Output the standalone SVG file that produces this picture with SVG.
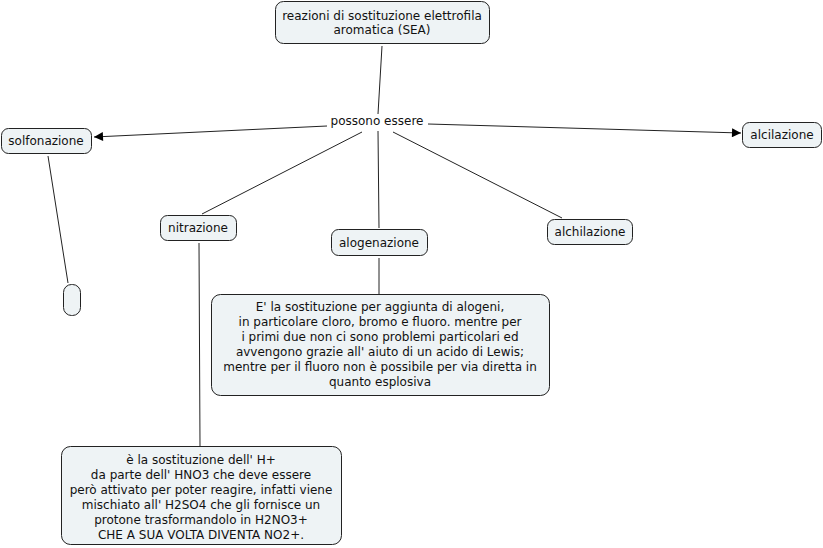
<svg xmlns="http://www.w3.org/2000/svg" width="823" height="548" viewBox="0 0 823 548">
<style>
.box{fill:#eef3f5;stroke:#222;stroke-width:1}
.t{font-family:"DejaVu Sans","Verdana",sans-serif;font-size:12px;fill:#111;text-anchor:middle}
.c{stroke:#222;stroke-width:1;fill:none}
</style>
<defs>
<marker id="arr" viewBox="0 0 10 10" refX="10" refY="5" markerWidth="12" markerHeight="9" markerUnits="userSpaceOnUse" orient="auto">
<path d="M0,0 L10,5 L0,10 z" fill="#000"/>
</marker>
</defs>
<rect width="823" height="548" fill="#fff"/>
<g id="connectors">
<line class="c" x1="382" y1="46" x2="378" y2="114"/>
<line class="c" x1="327" y1="126" x2="94" y2="137" marker-end="url(#arr)"/>
<line class="c" x1="428" y1="124" x2="741" y2="133" marker-end="url(#arr)"/>
<line class="c" x1="362" y1="132" x2="202" y2="214"/>
<line class="c" x1="378" y1="131" x2="379" y2="228"/>
<line class="c" x1="393" y1="132" x2="562" y2="218"/>
<line class="c" x1="48" y1="156" x2="68" y2="283"/>
<line class="c" x1="379" y1="258" x2="379" y2="294"/>
<line class="c" x1="199" y1="243" x2="200" y2="446"/>
</g>
<g id="node-sea">
<rect class="box" x="275.5" y="1.5" width="214" height="42" rx="8"/>
<text class="t" x="382" y="19.5">reazioni di sostituzione elettrofila</text>
<text class="t" x="382" y="33.5">aromatica (SEA)</text>
</g>
<g id="node-possono">
<text class="t" x="377" y="125">possono essere</text>
</g>
<g id="node-solfonazione">
<rect class="box" x="1.5" y="128.5" width="90" height="25" rx="7"/>
<text class="t" x="46" y="145">solfonazione</text>
</g>
<g id="node-alcilazione">
<rect class="box" x="742.5" y="122.5" width="79" height="25" rx="7"/>
<text class="t" x="782" y="139">alcilazione</text>
</g>
<g id="node-nitrazione">
<rect class="box" x="160.5" y="215.5" width="76" height="25" rx="7"/>
<text class="t" x="198" y="232">nitrazione</text>
</g>
<g id="node-alogenazione">
<rect class="box" x="331.5" y="229.5" width="96" height="26" rx="7"/>
<text class="t" x="379" y="247">alogenazione</text>
</g>
<g id="node-alchilazione">
<rect class="box" x="547.5" y="219.5" width="85" height="25" rx="7"/>
<text class="t" x="590" y="236">alchilazione</text>
</g>
<g id="node-empty">
<rect class="box" x="63.5" y="284.5" width="17" height="31" rx="8"/>
</g>
<g id="node-alogenazione-desc">
<rect class="box" x="211.5" y="294.5" width="338" height="101" rx="9"/>
<text class="t" x="380" y="311">E' la sostituzione per aggiunta di alogeni,</text>
<text class="t" x="380" y="326">in particolare cloro, bromo e fluoro. mentre per</text>
<text class="t" x="380" y="341">i primi due non ci sono problemi particolari ed</text>
<text class="t" x="380" y="356">avvengono grazie all' aiuto di un acido di Lewis;</text>
<text class="t" x="380" y="371">mentre per il fluoro non è possibile per via diretta in</text>
<text class="t" x="380" y="386">quanto esplosiva</text>
</g>
<g id="node-nitrazione-desc">
<rect class="box" x="61.5" y="446.5" width="280" height="98" rx="9"/>
<text class="t" x="201" y="464">è la sostituzione dell' H+</text>
<text class="t" x="201" y="479">da parte dell' HNO3 che deve essere</text>
<text class="t" x="201" y="494">però attivato per poter reagire, infatti viene</text>
<text class="t" x="201" y="509">mischiato all' H2SO4 che gli fornisce un</text>
<text class="t" x="201" y="524">protone trasformandolo in H2NO3+</text>
<text class="t" x="201" y="539">CHE A SUA VOLTA DIVENTA NO2+.</text>
</g>
</svg>
